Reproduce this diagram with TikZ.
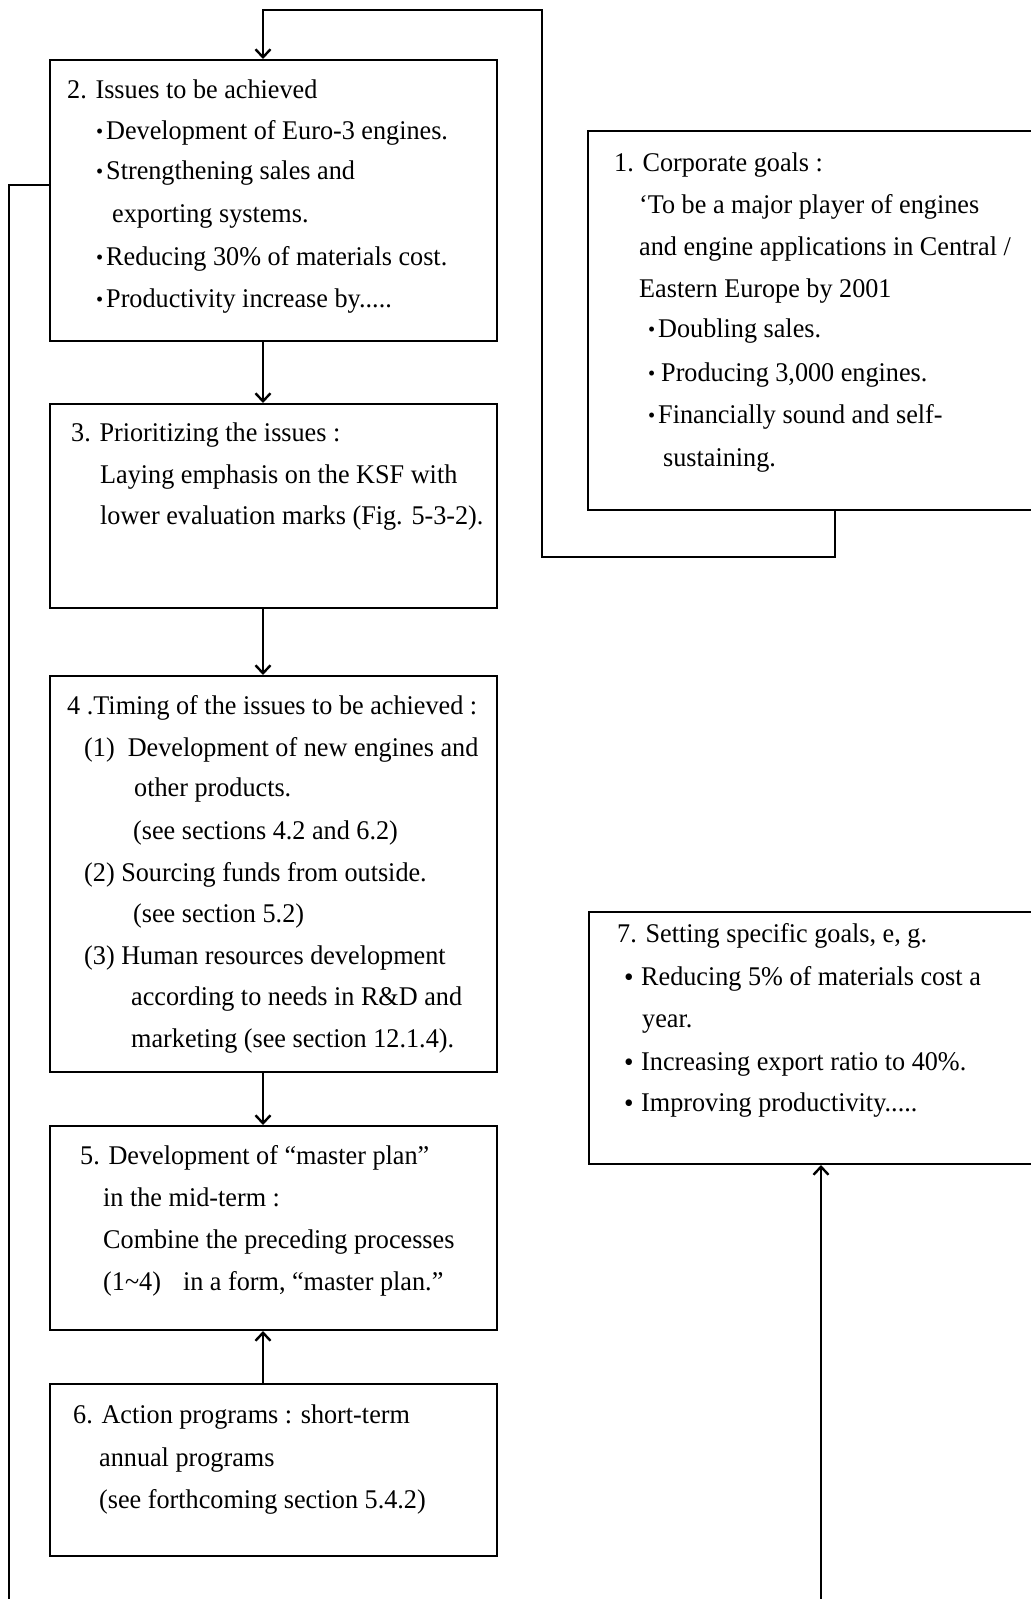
\documentclass[tikz,border=0pt]{standalone}
\usepackage{fontspec}
\setmainfont{Liberation Serif}[FakeStretch=0.97]
\usetikzlibrary{arrows.meta}
% small raised dot and full bullet used in the lists
\newcommand\smdot{\makebox[10pt][l]{\raisebox{1pt}{\fontsize{21}{21}\selectfont•}}}
\newcommand\bigdot{\makebox[17pt][l]{\raisebox{-1pt}{\fontsize{28}{28}\selectfont•}}}
\begin{document}
\begin{tikzpicture}[x=1pt,y=-1pt,
  box/.style={draw,line width=2pt,inner sep=0pt,anchor=north west},
  txt/.style={anchor=base west,inner sep=0pt,font=\fontsize{27}{32}\selectfont},
  link/.style={line width=2.2pt},
  arr/.style={line width=2.2pt,-{Straight Barb[length=8pt,width=15pt,line width=2.4pt]}}]
\useasboundingbox (0,0) rectangle (1031,1599);
\clip (0,0) rectangle (1031,1599);

% boxes of the left column
\node[box,minimum width=447pt,minimum height=281pt] (b2) at (49,59) {};
\node[box,minimum width=447pt,minimum height=204pt] (b3) at (49,403) {};
\node[box,minimum width=447pt,minimum height=396pt] (b4) at (49,675) {};
\node[box,minimum width=447pt,minimum height=204pt] (b5) at (49,1125) {};
\node[box,minimum width=447pt,minimum height=172pt] (b6) at (49,1383) {};
% boxes of the right column (running past the right edge)
\node[box,minimum width=470pt,minimum height=379pt] (b1) at (587,130) {};
\node[box,minimum width=470pt,minimum height=252pt] (b7) at (588,911) {};

% texts
\node[txt] (t2a) at (67,98) {2. Issues to be achieved};
\node[txt] (t2b) at (96,139) {\smdot Development of Euro-3 engines.};
\node[txt] (t2c) at (96,179) {\smdot Strengthening sales and};
\node[txt] (t2d) at (112,222) {exporting systems.};
\node[txt] (t2e) at (96,265) {\smdot Reducing 30\% of materials cost.};
\node[txt] (t2f) at (96,307) {\smdot Productivity increase by.....};

\node[txt] (t1a) at (614,171) {1. Corporate goals :};
\node[txt] (t1b) at (639,213) {‘To be a major player of engines};
\node[txt] (t1c) at (639,255) {and engine applications in Central /};
\node[txt] (t1d) at (639,297) {Eastern Europe by 2001};
\node[txt] (t1e) at (648,337) {\smdot Doubling sales.};
\node[txt] (t1f) at (648,381) {\smdot\hspace{3pt}Producing 3,000 engines.};
\node[txt] (t1g) at (648,423) {\smdot Financially sound and self-};
\node[txt] (t1h) at (663,466) {sustaining.};

\node[txt] (t3a) at (71,441) {3. Prioritizing the issues :};
\node[txt] (t3b) at (100,483) {Laying emphasis on the KSF with};
\node[txt] (t3c) at (100,524) {lower evaluation marks (Fig. 5-3-2).};

\node[txt] (t4a) at (67,714) {4 .Timing of the issues to be achieved :};
\node[txt] (t4b) at (84,756) {(1)\ \ Development of new engines and};
\node[txt] (t4c) at (134,796) {other products.};
\node[txt] (t4d) at (133,839) {(see sections 4.2 and 6.2)};
\node[txt] (t4e) at (84,881) {(2) Sourcing funds from outside.};
\node[txt] (t4f) at (133,922) {(see section 5.2)};
\node[txt] (t4g) at (84,964) {(3) Human resources development};
\node[txt] (t4h) at (131,1005) {according to needs in R\&D and};
\node[txt] (t4i) at (131,1047) {marketing (see section 12.1.4).};

\node[txt] (t5a) at (80,1164) {5. Development of “master plan”};
\node[txt] (t5b) at (103,1206) {in the mid-term :};
\node[txt] (t5c) at (103,1248) {Combine the preceding processes};
\node[txt] (t5d) at (103,1290) {(1\char`~4)\hspace{22pt}in a form, “master plan.”};

\node[txt] (t6a) at (73,1423) {6. Action programs : short-term};
\node[txt] (t6b) at (99,1466) {annual programs};
\node[txt] (t6c) at (99,1508) {(see forthcoming section 5.4.2)};

\node[txt] (t7a) at (617,942) {7. Setting specific goals, e, g.};
\node[txt] (t7b) at (624,985) {\bigdot Reducing 5\% of materials cost a};
\node[txt] (t7c) at (642,1027) {year.};
\node[txt] (t7d) at (624,1070) {\bigdot Increasing export ratio to 40\%.};
\node[txt] (t7e) at (624,1111) {\bigdot Improving productivity.....};

% connector axes
\coordinate (axis) at (263,0);
\coordinate (raxis) at (835,0);
\coordinate (loopL) at (542,557);
\coordinate (loopTop) at (542,10);
\coordinate (inTop) at (263,10);
\coordinate (leftEnd) at (9,1610);
\coordinate (leftTurn) at (9,185);
\coordinate (rightEnd) at (821,1610);

% goals feed the issues
\draw[arr] (b1.south -| raxis) |- (loopL) -- (loopTop) -- (inTop) -- (b2.north -| axis);
% main chain
\draw[arr] (b2.south -| axis) -- (b3.north -| axis);
\draw[arr] (b3.south -| axis) -- (b4.north -| axis);
\draw[arr] (b4.south -| axis) -- (b5.north -| axis);
\draw[arr] (b6.north -| axis) -- (b5.south -| axis);
% feedback lines
\draw[link] (leftEnd) -- (leftTurn) -- (leftTurn -| b2.west);
\draw[arr] (rightEnd) -- (rightEnd |- b7.south);
\end{tikzpicture}
\end{document}
